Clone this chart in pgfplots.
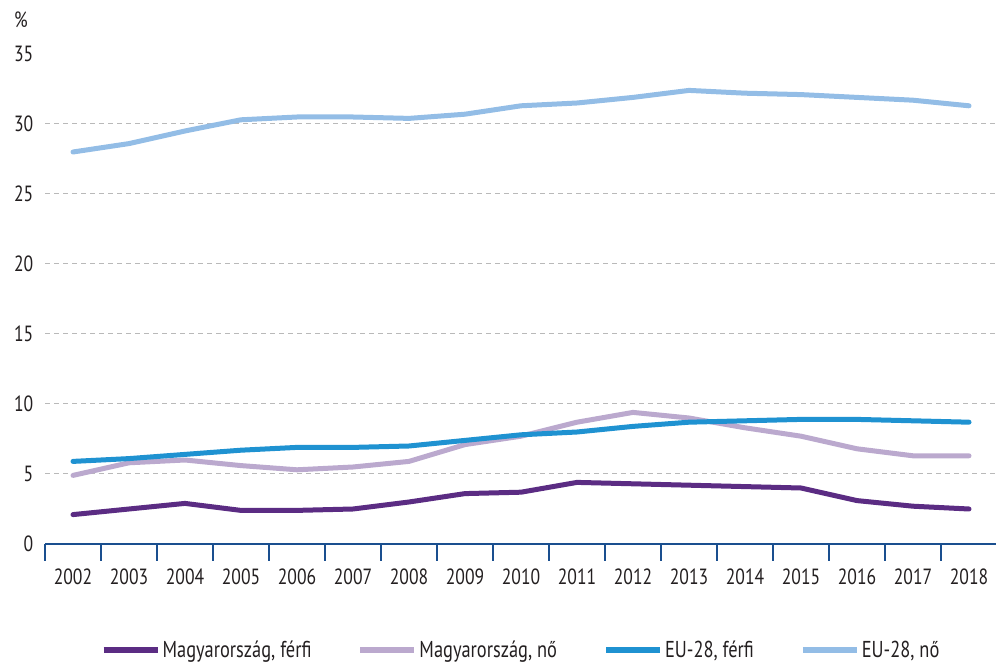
\documentclass[border=0pt]{standalone}
\usepackage{fontspec}
\setmainfont[FakeStretch=0.8]{PT Sans}
\usepackage{pgfplots}
\pgfplotsset{compat=1.18}
\definecolor{hufe}{HTML}{5B2C83}
\definecolor{hunf}{HTML}{BBA9CE}
\definecolor{eufe}{HTML}{1F92D1}
\definecolor{eunf}{HTML}{93BDE6}
\definecolor{axblue}{HTML}{1A4F8F}
\definecolor{txt}{HTML}{231F20}
\begin{document}
\begin{tikzpicture}
\useasboundingbox (0,0) rectangle (996pt,666pt);
\begin{axis}[
  at={(45pt,122pt)}, anchor=south west,
  scale only axis, width=952pt, height=490pt,
  xmin=-0.5, xmax=16.5, ymin=0, ymax=35,
  axis x line=bottom, axis y line=left,
  x axis line style={-, draw=axblue, line width=2.5pt},
  y axis line style={draw=none},
  xtick={0,...,16},
  xticklabels={2002,2003,2004,2005,2006,2007,2008,2009,2010,2011,2012,2013,2014,2015,2016,2017,2018},
  minor xtick={-0.5,0.5,...,16.5},
  major x tick style={draw=none},
  minor x tick style={draw=axblue, line width=2.5pt},
  tick align=outside,
  minor tick length=17pt,
  ytick={0,5,...,30},
  extra y ticks={35},
  extra y tick style={grid=none},
  ymajorgrids,
  major grid style={dashed, gray!55, line width=1pt, dash pattern=on 5pt off 4pt},
  ytick style={draw=none},
  tick label style={font=\fontsize{22}{25}\selectfont, text=txt},
  /pgf/number format/assume math mode=true,
  xticklabel style={yshift=-17pt},
  yticklabel style={xshift=-4pt},
  legend columns=4,
  legend style={at={(0.5,0)}, anchor=center, yshift=-106pt, draw=none, fill=none,
    font=\fontsize{23}{25}\selectfont, text=txt,
    /tikz/every even column/.append style={column sep=44pt}},
  legend image code/.code={\draw[#1, line width=6pt, line cap=butt] (0pt,0pt) -- (54pt,0pt);},
  every axis plot/.append style={line width=5pt, line join=round, line cap=round, mark=none},
  clip=false,
]
\addplot[hufe] coordinates {(0,2.1)(1,2.5)(2,2.9)(3,2.4)(4,2.4)(5,2.5)(6,3.0)(7,3.6)(8,3.7)(9,4.4)(10,4.3)(11,4.2)(12,4.1)(13,4.0)(14,3.1)(15,2.7)(16,2.5)};
\addlegendentry{Magyarország, férfi}
\addplot[hunf] coordinates {(0,4.9)(1,5.8)(2,6.0)(3,5.6)(4,5.3)(5,5.5)(6,5.9)(7,7.1)(8,7.7)(9,8.7)(10,9.4)(11,9.0)(12,8.3)(13,7.7)(14,6.8)(15,6.3)(16,6.3)};
\addlegendentry{Magyarország, nő}
\addplot[eufe] coordinates {(0,5.9)(1,6.1)(2,6.4)(3,6.7)(4,6.9)(5,6.9)(6,7.0)(7,7.4)(8,7.8)(9,8.0)(10,8.4)(11,8.7)(12,8.8)(13,8.9)(14,8.9)(15,8.8)(16,8.7)};
\addlegendentry{EU-28, férfi}
\addplot[eunf] coordinates {(0,28.0)(1,28.6)(2,29.5)(3,30.3)(4,30.5)(5,30.5)(6,30.4)(7,30.7)(8,31.3)(9,31.5)(10,31.9)(11,32.4)(12,32.2)(13,32.1)(14,31.9)(15,31.7)(16,31.3)};
\addlegendentry{EU-28, nő}
\end{axis}
\node[font=\fontsize{22}{25}\selectfont, text=txt, anchor=center] at (21pt,646pt) {\%};
\end{tikzpicture}
\end{document}
